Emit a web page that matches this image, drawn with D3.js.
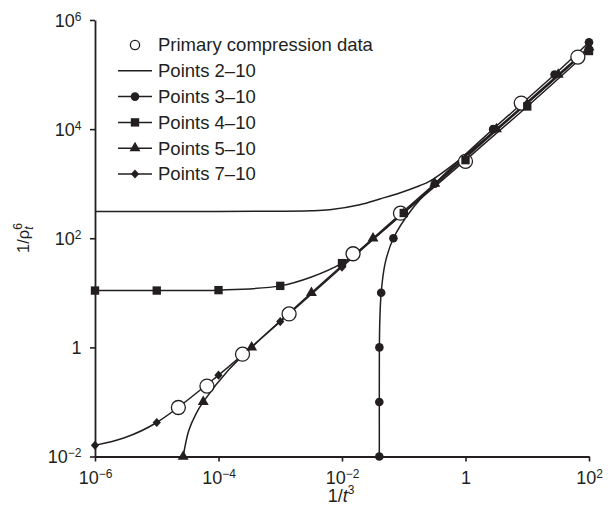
<!DOCTYPE html>
<html>
<head>
<meta charset="utf-8">
<script src="https://cdn.jsdelivr.net/npm/d3@7"></script>
<style>
  html, body { margin: 0; padding: 0; background: #fff; }
  svg { display: block; font-family: "Liberation Sans", Arial, sans-serif; }
</style>
</head>
<body>
<svg id="chart" width="614" height="506"></svg>
<script>
// Tick positions (log decades)
const xTicks = [1e-6, 1e-4, 1e-2, 1, 1e2];
const yTicks = [1e-2, 1, 1e2, 1e4, 1e6];

// Primary compression data (open circles)
const primaryX = [2.24e-5, 6.5e-5, 2.45e-4, 1.39e-3, 0.0151, 0.0885, 1.0, 8.0, 66];
const primaryY = [0.079, 0.195, 0.75, 4.1, 52, 288, 2570, 30000, 209000];

// Points 2–10 fit (plain line, no markers)
const fit2X = [1e-6, 1e-4, 1e-3, 3e-3, 6.3e-3, 0.0194, 0.041, 0.086, 0.18, 0.26, 1, 10, 100];
const fit2Y = [310, 310, 312, 318, 333, 412, 525, 676, 918, 1100, 3350, 30300, 304000];

// Points 3–10 fit: markers and extra points along the bend
const fit3X = [0.0402, 0.0402, 0.0403, 0.0431, 0.068, 0.318, 2.8, 27.7, 100];
const fit3Y = [0.01, 0.1, 1, 10, 100, 1000, 1e4, 1e5, 3.9e5];
const fit3BendX = [0.0411, 0.05, 0.13, 1];
const fit3BendY = [3.5, 35, 320, 3450];

// Points 4–10 fit
const fit4X = [1e-6, 1e-5, 1e-4, 1e-3, 1e-2, 0.1, 1, 10, 100];
const fit4Y = [11, 11, 11.2, 13.4, 35, 290, 2700, 26000, 270000];
const fit4BendX = [3.2e-3, 0.032];
const fit4BendY = [19.5, 97];

// Points 5–10 fit
const fit5X = [2.68e-5, 5.66e-5, 3.44e-4, 3.2e-3, 0.0318, 0.318, 3.17, 31.7, 100];
const fit5Y = [0.01, 0.1, 1, 10, 100, 1000, 1e4, 1e5, 3.15e5];
const fit5BendX = [3.3e-5, 4.3e-5, 1.5e-4];
const fit5BendY = [0.03, 0.06, 0.4];

// Points 7–10 fit
const fit7X = [1e-6, 1e-5, 1e-4, 1e-3, 1e-2, 0.1, 1, 10, 100];
const fit7Y = [0.016, 0.042, 0.31, 2.97, 29.7, 297, 2970, 29700, 297000];
const fit7BendX = [3e-6];
const fit7BendY = [0.022];

const legendLabels = ["Primary compression data", "Points 2–10", "Points 3–10",
                      "Points 4–10", "Points 5–10", "Points 7–10"];

const ink = "#231f20";
const svg = d3.select("#chart");

const x = d3.scaleLog().domain([1e-6, 1e2]).range([95, 589]);
const y = d3.scaleLog().domain([1e-2, 1e6]).range([456.5, 20]);

// Marker shapes
const diamond = {
  draw(ctx, size) {
    const r = Math.sqrt(size / 2);
    ctx.moveTo(0, -r * 1.12); ctx.lineTo(r, 0); ctx.lineTo(0, r * 1.12); ctx.lineTo(-r, 0); ctx.closePath();
  }
};
const series = [
  { name: "Points 2–10", xs: fit2X, ys: fit2Y, bx: [], by: [], symbol: null, size: 0, showMarks: false },
  { name: "Points 3–10", xs: fit3X, ys: fit3Y, bx: fit3BendX, by: fit3BendY, symbol: d3.symbolCircle, size: 58, showMarks: true },
  { name: "Points 4–10", xs: fit4X, ys: fit4Y, bx: fit4BendX, by: fit4BendY, symbol: d3.symbolSquare, size: 70, showMarks: true },
  { name: "Points 5–10", xs: fit5X, ys: fit5Y, bx: fit5BendX, by: fit5BendY, symbol: d3.symbolTriangle, size: 52, showMarks: true },
  { name: "Points 7–10", xs: fit7X, ys: fit7Y, bx: fit7BendX, by: fit7BendY, symbol: diamond, size: 34, showMarks: true }
];

const line = d3.line()
  .x(d => x(d.x)).y(d => y(d.y))
  .curve(d3.curveCatmullRom.alpha(0.5));

// Fitted curves
const curves = svg.append("g").attr("fill", "none").attr("stroke", ink).attr("stroke-width", 1.5);
series.forEach(s => {
  const pts = s.xs.map((v, i) => ({ x: v, y: s.ys[i] }))
    .concat(s.bx.map((v, i) => ({ x: v, y: s.by[i] })));
  pts.sort((a, b) => (a.x - b.x) || (a.y - b.y));
  curves.append("path").attr("d", line(pts));
});

// Primary compression data
svg.append("g").selectAll("circle")
  .data(primaryX.map((v, i) => ({ x: v, y: primaryY[i] })))
  .join("circle")
  .attr("cx", d => x(d.x)).attr("cy", d => y(d.y)).attr("r", 7)
  .attr("fill", "#fff").attr("stroke", ink).attr("stroke-width", 1.3);

// Filled markers of each fit
series.filter(s => s.showMarks).forEach(s => {
  const sym = d3.symbol().type(s.symbol).size(s.size);
  svg.append("g").selectAll("path")
    .data(s.xs.map((v, i) => ({ x: v, y: s.ys[i] })))
    .join("path")
    .attr("transform", d => `translate(${x(d.x)},${y(d.y)})`)
    .attr("d", sym())
    .attr("fill", ink);
});

// Exponent-style tick labels
function expLabel(text, v) {
  const e = Math.round(Math.log10(v));
  text.text(null);
  if (e === 0) { text.append("tspan").text("1"); return; }
  text.append("tspan").text("10");
  text.append("tspan").attr("font-size", 12).attr("dy", -6)
    .text(e < 0 ? "\u2212" + (-e) : String(e));
}

// Axes
const xAxis = svg.append("g").attr("transform", `translate(0,${y(1e-2)})`)
  .call(d3.axisBottom(x).tickValues(xTicks).tickSize(5).tickSizeOuter(0));
const yAxis = svg.append("g").attr("transform", `translate(${x(1e-6)},0)`)
  .call(d3.axisLeft(y).tickValues(yTicks).tickSize(5).tickSizeOuter(0));

[xAxis, yAxis].forEach(g => {
  g.select(".domain").attr("stroke", ink).attr("stroke-width", 1.8);
  g.selectAll(".tick line").attr("stroke", ink).attr("stroke-width", 1.6);
  g.selectAll(".tick text").attr("fill", ink).attr("font-size", 18)
    .attr("font-family", '"Liberation Sans", Arial, sans-serif');
});
xAxis.selectAll(".tick text").attr("y", 27).attr("dy", 0)
  .each(function (d) { expLabel(d3.select(this), d); });
yAxis.selectAll(".tick text").attr("x", -13.5).attr("dy", "0.35em")
  .each(function (d) { expLabel(d3.select(this), d); });

// Axis titles
const xTitle = svg.append("text").attr("x", 341).attr("y", 502)
  .attr("text-anchor", "middle").attr("font-size", 18).attr("fill", ink);
xTitle.append("tspan").text("1/");
xTitle.append("tspan").attr("font-style", "italic").text("t");
xTitle.append("tspan").attr("font-size", 12).attr("dy", -8).text("3");

const yTitle = svg.append("text")
  .attr("transform", "translate(29,238) rotate(-90)")
  .attr("text-anchor", "middle").attr("font-size", 16.5).attr("fill", ink);
yTitle.append("tspan").text("1/ρ");
yTitle.append("tspan").attr("font-size", 12).attr("font-style", "italic").attr("dy", 3.5).text("t");
yTitle.append("tspan").attr("font-size", 12).attr("dx", -3.4).attr("dy", -11).text("6");

// Legend
const legend = svg.append("g");
const rowY = i => 45 + i * 25.8;
legendLabels.forEach((label, i) => {
  const ry = rowY(i);
  if (i === 0) {
    legend.append("circle").attr("cx", 135).attr("cy", ry).attr("r", 4.6)
      .attr("fill", "#fff").attr("stroke", ink).attr("stroke-width", 1.3);
  } else {
    const s = series[i - 1];
    legend.append("line").attr("x1", 118).attr("x2", 152).attr("y1", ry).attr("y2", ry)
      .attr("stroke", ink).attr("stroke-width", 1.5);
    if (s.showMarks) {
      legend.append("path").attr("transform", `translate(135,${ry})`)
        .attr("d", d3.symbol().type(s.symbol).size(s.size)()).attr("fill", ink);
    }
  }
  legend.append("text").attr("x", 158).attr("y", ry).attr("dy", "0.35em")
    .attr("font-size", 18.5).attr("fill", ink).text(label);
});
</script>
</body>
</html>
